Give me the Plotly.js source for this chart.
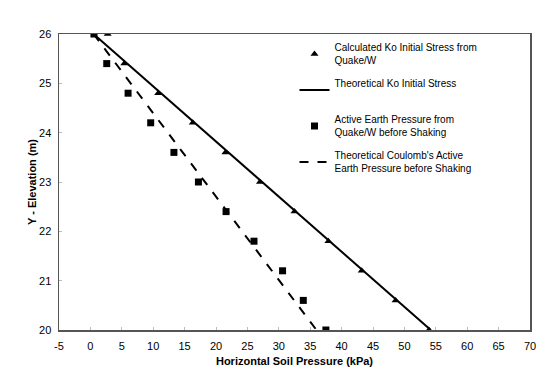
<!DOCTYPE html>
<html><head><meta charset="utf-8">
<script src="https://cdn.plot.ly/plotly-3.0.1.min.js"></script>
<style>html,body{margin:0;padding:0;background:#fff}</style>
</head><body>
<div id="chart" style="width:549px;height:368px"></div>
<script>
const elevation = [26, 25.4, 24.8, 24.2, 23.6, 23.0, 22.4, 21.8, 21.2, 20.6, 20.0];
const koCalculated = [2.75, 5.4, 10.8, 16.3, 21.5, 27.0, 32.5, 37.9, 43.2, 48.6, 53.9];
const activeCalculated = [0.57, 2.6, 6.0, 9.6, 13.3, 17.2, 21.6, 26.05, 30.6, 33.9, 37.5];
const koTheoryX = [0.5, 54.2];
const koTheoryY = [26, 20];
const coulombTheoryX = [0.5, 36.0];
const coulombTheoryY = [26, 20];
const xTickVals = [-5, 0, 5, 10, 15, 20, 25, 30, 35, 40, 45, 50, 55, 60, 65, 70];
const xTickText = ['-5', '0', '5', '10', '15', '20', '25', '30', '35', '40', '45', '50', '55', '60', '65', '70'];
const names = [
  "Calculated Ko Initial Stress from<br>Quake/W",
  "Theoretical Ko Initial Stress<br> ",
  "Active Earth Pressure from<br>Quake/W before Shaking",
  "Theoretical Coulomb's Active<br>Earth Pressure before Shaking"
];

const traces = [
  {x: koCalculated, y: elevation, mode: 'markers', name: names[0], legendgroup: 'a',
   marker: {symbol: 'triangle-up', size: 7, color: '#000'}},
  {x: koTheoryX, y: koTheoryY, mode: 'lines', name: names[1], legendgroup: 'b',
   line: {color: '#000', width: 2}},
  {x: activeCalculated, y: elevation, mode: 'markers', name: names[2], legendgroup: 'c',
   marker: {symbol: 'square', size: 7, color: '#000'}},
  {x: coulombTheoryX, y: coulombTheoryY, mode: 'lines', name: names[3], legendgroup: 'd',
   line: {color: '#000', width: 2, dash: 'dash'}}
];

const axisCommon = {
  showgrid: false, zeroline: false, showline: true, mirror: true,
  linecolor: '#555', linewidth: 1.5,
  ticks: 'inside', ticklen: 3, tickcolor: '#bbb',
  tickfont: {family: 'Liberation Sans, Arial', size: 11, color: '#000'}
};

const layout = {
  width: 549, height: 368,
  margin: {l: 59, r: 19, t: 34, b: 38},
  paper_bgcolor: '#fff', plot_bgcolor: '#fff',
  font: {family: 'Liberation Sans, Arial', color: '#000'},
  xaxis: Object.assign({}, axisCommon, {
    range: [-5, 70], tickmode: 'array', tickvals: xTickVals, ticktext: xTickText,
    ticklabelstandoff: 5,
    title: {text: '<b>Horizontal Soil Pressure (kPa)</b>', font: {size: 11}, standoff: 6}
  }),
  yaxis: Object.assign({}, axisCommon, {
    range: [20, 26], dtick: 1, ticklabelstandoff: 4,
    title: {text: '<b>Y - Elevation (m)</b>', font: {size: 11}, standoff: 0}
  }),
  showlegend: true,
  legend: {
    x: 0.5, y: 0.998, xanchor: 'left', yanchor: 'top',
    bgcolor: 'rgba(0,0,0,0)', traceorder: 'grouped', tracegroupgap: 7,
    font: {family: 'Liberation Sans, Arial', size: 10, color: '#000'}
  }
};

Plotly.newPlot('chart', traces, layout, {displayModeBar: false, staticPlot: true});
</script>
</body></html>
